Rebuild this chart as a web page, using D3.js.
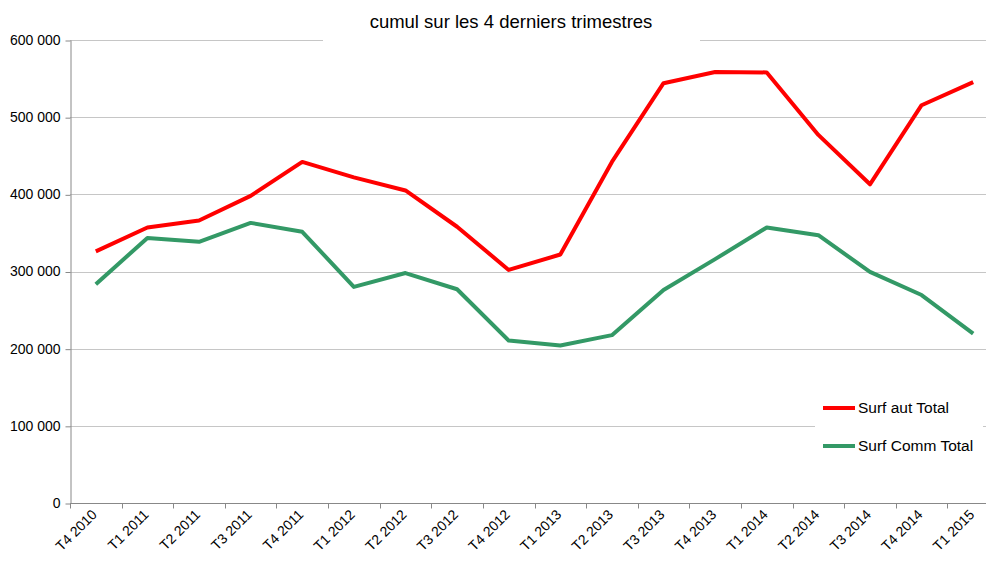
<!DOCTYPE html>
<html>
<head>
<meta charset="utf-8">
<script src="https://cdn.jsdelivr.net/npm/d3@7"></script>
<style>
  body { margin: 0; background: #fff; }
  svg { font-family: "Liberation Sans", Arial, sans-serif; }
  .grid line { stroke: #c6c6c6; }
  .axis path, .axis line { stroke: #888; }
  .axis text { fill: #000; font-size: 14px; }
</style>
</head>
<body>
<div id="chart"></div>
<script>
// data
const quarters = ['T4 2010', 'T1 2011', 'T2 2011', 'T3 2011', 'T4 2011', 'T1 2012', 'T2 2012',
  'T3 2012', 'T4 2012', 'T1 2013', 'T2 2013', 'T3 2013', 'T4 2013', 'T1 2014', 'T2 2014',
  'T3 2014', 'T4 2014', 'T1 2015'];
const surfAut = [326000, 357000, 366000, 398000, 442000, 422000, 405000, 358000, 302000,
  322000, 442000, 544000, 558500, 558000, 477000, 413000, 515500, 545500];
const surfComm = [283500, 343500, 338500, 363000, 351500, 280000, 298000, 277000, 210500,
  204000, 217500, 276000, 316000, 357000, 347000, 299500, 269500, 219500];
const yTicks = [0, 100000, 200000, 300000, 400000, 500000, 600000];
const seriesNames = ['Surf aut Total', 'Surf Comm Total'];
const seriesColors = ['#ff0000', '#339966'];
const title = 'cumul sur les 4 derniers trimestres';

const width = 986;
const height = 561;
const marginLeft = 70;
const marginTop = 40;
const plotRight = 999;
const plotBottom = 503;

const $svg = d3.select('#chart').append('svg')
  .attr('width', width)
  .attr('height', height);

const scaleX = d3.scaleBand().domain(quarters).range([marginLeft, plotRight]);
const scaleY = d3.scaleLinear().domain([0, 600000]).range([plotBottom, marginTop]);
const fmt = v => d3.format(',')(v).replace(/,/g, ' ');

// gridlines
$svg.append('g').attr('class', 'grid')
  .selectAll('line')
  .data(yTicks.filter(d => d > 0))
  .join('line')
  .attr('x1', marginLeft)
  .attr('x2', plotRight)
  .attr('y1', d => Math.round(scaleY(d)) + 0.5)
  .attr('y2', d => Math.round(scaleY(d)) + 0.5);

// y axis
const $yAxis = $svg.append('g').attr('class', 'axis')
  .attr('transform', `translate(${marginLeft + 0.5},0)`)
  .call(d3.axisLeft(scaleY).tickValues(yTicks).tickFormat(fmt).tickSize(5).tickSizeOuter(0))
  .call(g => g.selectAll('.tick text').attr('x', -10));
$yAxis.selectAll('.tick line').attr('transform', 'translate(0,0.5)');

// x axis with ticks on category boundaries
const $xAxis = $svg.append('g').attr('class', 'axis')
  .attr('transform', `translate(0,${plotBottom + 0.5})`);
$xAxis.append('line')
  .attr('x1', marginLeft).attr('x2', plotRight);
$xAxis.selectAll('.bound')
  .data(quarters)
  .join('line')
  .attr('class', 'bound')
  .attr('x1', d => Math.round(scaleX(d)) + 0.5)
  .attr('x2', d => Math.round(scaleX(d)) + 0.5)
  .attr('y1', 0).attr('y2', 5);
$xAxis.selectAll('text')
  .data(quarters)
  .join('text')
  .attr('text-anchor', 'end')
  .attr('transform', d => `translate(${scaleX(d) + scaleX.bandwidth() / 2 + 2},${12}) rotate(-45)`)
  .text(d => d);

// lines
const line = d3.line()
  .x((d, i) => scaleX(quarters[i]) + scaleX.bandwidth() / 2)
  .y(d => scaleY(d));

[surfAut, surfComm].forEach((vals, i) => {
  $svg.append('path')
    .datum(vals)
    .attr('fill', 'none')
    .attr('stroke', seriesColors[i])
    .attr('stroke-width', 4)
    .attr('stroke-linejoin', 'round')
    .attr('d', line);
});

// title with white background
const $title = $svg.append('g');
$title.append('rect')
  .attr('x', 323).attr('y', 8)
  .attr('width', 377).attr('height', 36)
  .attr('fill', '#fff');
$title.append('text')
  .attr('x', 511).attr('y', 28)
  .attr('text-anchor', 'middle')
  .style('font-size', '18.5px')
  .text(title);

// legend
const $legend = $svg.append('g');
$legend.append('rect')
  .attr('x', 815).attr('y', 390)
  .attr('width', 168).attr('height', 78)
  .attr('fill', '#fff');
seriesNames.forEach((name, i) => {
  const y = 408 + i * 38;
  $legend.append('line')
    .attr('x1', 823).attr('x2', 855)
    .attr('y1', y).attr('y2', y)
    .attr('stroke', seriesColors[i])
    .attr('stroke-width', 4);
  $legend.append('text')
    .attr('x', 858).attr('y', y + 5)
    .style('font-size', '15.5px')
    .text(name);
});
</script>
</body>
</html>
